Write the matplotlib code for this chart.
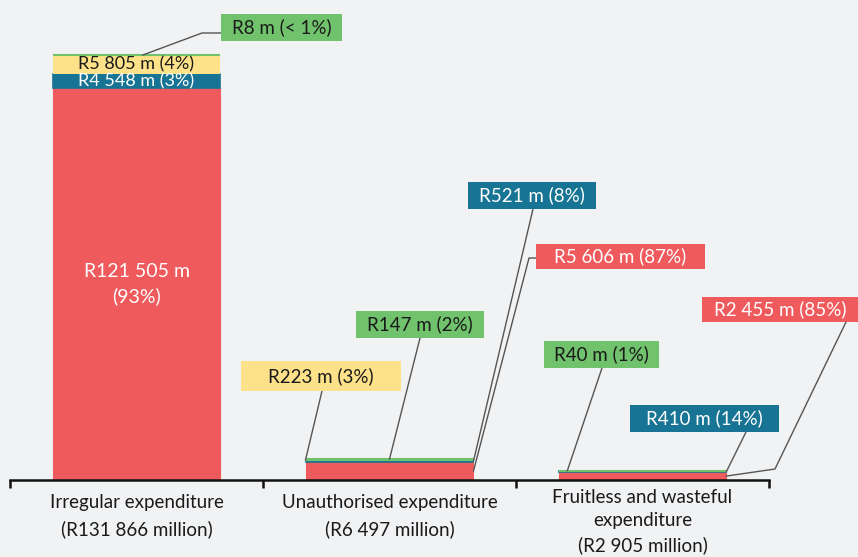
import matplotlib
matplotlib.use("Agg")
import matplotlib.pyplot as plt
import numpy as np
from matplotlib.lines import Line2D
from matplotlib.patches import Rectangle

# data (R million)
categories = ["Irregular expenditure\n(R131 866 million)",
              "Unauthorised expenditure\n(R6 497 million)",
              "Fruitless and wasteful\nexpenditure\n(R2 905 million)"]
red_vals = [121505, 5606, 2455]
blue_vals = [4548, 521, 410]
yellow_vals = [5805, 223, 0]
green_vals = [8, 147, 40]

red_labels = ["R121 505 m\n(93%)", "R5 606 m (87%)", "R2 455 m (85%)"]
blue_labels = ["R4 548 m (3%)", "R521 m (8%)", "R410 m (14%)"]
yellow_labels = ["R5 805 m (4%)", "R223 m (3%)", ""]
green_labels = ["R8 m (< 1%)", "R147 m (2%)", "R40 m (1%)"]

RED = "#EF5A5C"
BLUE = "#177494"
YELLOW = "#FEE28A"
GREEN = "#71C26C"
BG = "#F1F2F4"
LINE = "#555555"
DARK = "#1a1a1a"

plt.rcParams['font.family'] = ['Lato', 'DejaVu Sans']

W, H = 858, 557
fig = plt.figure(figsize=(W / 100, H / 100), dpi=100)
fig.patch.set_facecolor(BG)

# axes spans x 10..769 px, y 0..480 px (from top)
ax = fig.add_axes([10 / W, 77 / H, 759 / W, 480 / H])
ax.set_facecolor(BG)

x = np.arange(len(categories))
bw = 0.664
red = np.array(red_vals)
blue = np.array(blue_vals)
yellow = np.array(yellow_vals)
green = np.array(green_vals)

ax.bar(x, red, bw, color=RED, edgecolor=RED, linewidth=0.8)
ax.bar(x, blue, bw, bottom=red, color=BLUE, edgecolor=BLUE, linewidth=1.2)
ax.bar(x, yellow, bw, bottom=red + blue, color=YELLOW, linewidth=0)
ax.bar(x, green, bw, bottom=red + blue + yellow, color=GREEN, edgecolor=GREEN, linewidth=1.5)

ax.set_xlim(-0.5, 2.5)
ax.set_ylim(0, (red + blue + yellow + green)[0] * 480 / 425)

for s in ['top', 'right', 'left']:
    ax.spines[s].set_visible(False)
ax.spines['bottom'].set_linewidth(1.8)
ax.spines['bottom'].set_color('#111111')
ax.set_yticks([])
ax.set_xticks([-0.5, 0.5, 1.5, 2.5])
ax.set_xticklabels([])
ax.tick_params(axis='x', which='major', length=6, width=1.8, color='#111111', direction='out')

# category labels below the axis (third one sits a little higher, tighter)
trans = ax.get_xaxis_transform()
for i, cat in enumerate(categories):
    nlines = cat.count("\n") + 1
    ytop = -14 / 480 if nlines == 2 else -9 / 480
    ls = 1.6 if nlines == 2 else 1.45
    ax.text(x[i], ytop, cat, transform=trans, ha='center', va='top',
            fontsize=13.5, color=DARK, linespacing=ls, clip_on=False)

# labels inside the first bar
ax.text(0, red[0] / 2, red_labels[0], ha='center', va='center', color='white',
        fontsize=14, linespacing=1.5)
ax.text(0, red[0] + blue[0] / 2, blue_labels[0], ha='center', va='center',
        color='white', fontsize=13)
ax.text(0, red[0] + blue[0] + yellow[0] / 2, yellow_labels[0], ha='center',
        va='center', color=DARK, fontsize=13)


def disp(px, py):
    # pixel position measured from top-left -> display coords
    return px, H - py


def callout(text, box, face, tcolor, anchor, path):
    x0, y0, x1, y1 = box
    fig.add_artist(Rectangle((x0 / W, 1 - y1 / H), (x1 - x0) / W, (y1 - y0) / H,
                             transform=fig.transFigure, facecolor=face,
                             edgecolor='none', zorder=3))
    fig.text((x0 + x1) / 2 / W, 1 - (y0 + y1) / 2 / H, text, ha='center',
             va='center', color=tcolor, fontsize=13.5, zorder=4)
    ax_pt = ax.transData.transform(anchor)
    pts = [tuple(ax_pt)] + [disp(*p) for p in path]
    xs, ys = zip(*pts)
    ln = Line2D(xs, ys, color=LINE, linewidth=1.0, zorder=2)
    ln.set_transform(matplotlib.transforms.IdentityTransform())
    fig.add_artist(ln)


top = red + blue + yellow + green
half = bw / 2

callout(green_labels[0], (221, 14, 342, 41), GREEN, DARK,
        (0.025, top[0]), [(202, 33), (221, 33)])
callout(blue_labels[1], (468, 182, 596, 209), BLUE, 'white',
        (1 + half, red[1] + blue[1] / 2), [(533, 209)])
callout(red_labels[1], (536, 244, 705, 269), RED, 'white',
        (1 + half, red[1] / 2), [(529, 258), (536, 258)])
callout(green_labels[1], (356, 311, 484, 338), GREEN, DARK,
        (1, top[1]), [(420, 338)])
callout(yellow_labels[1], (241, 361, 401, 391), YELLOW, DARK,
        (1 - half, red[1] + blue[1] + yellow[1] / 2), [(322, 391)])
callout(red_labels[2], (702, 297, 858, 322), RED, 'white',
        (2 + half, red[2] / 2), [(775, 469), (846, 322)])
callout(green_labels[2], (544, 341, 659, 368), GREEN, DARK,
        (2 - half + 0.035, top[2]), [(602, 368)])
callout(blue_labels[2], (630, 405, 779, 432), BLUE, 'white',
        (2 + half, red[2] + blue[2] / 2), [(746, 432)])

fig.savefig("out.png", dpi=100, facecolor=BG)
